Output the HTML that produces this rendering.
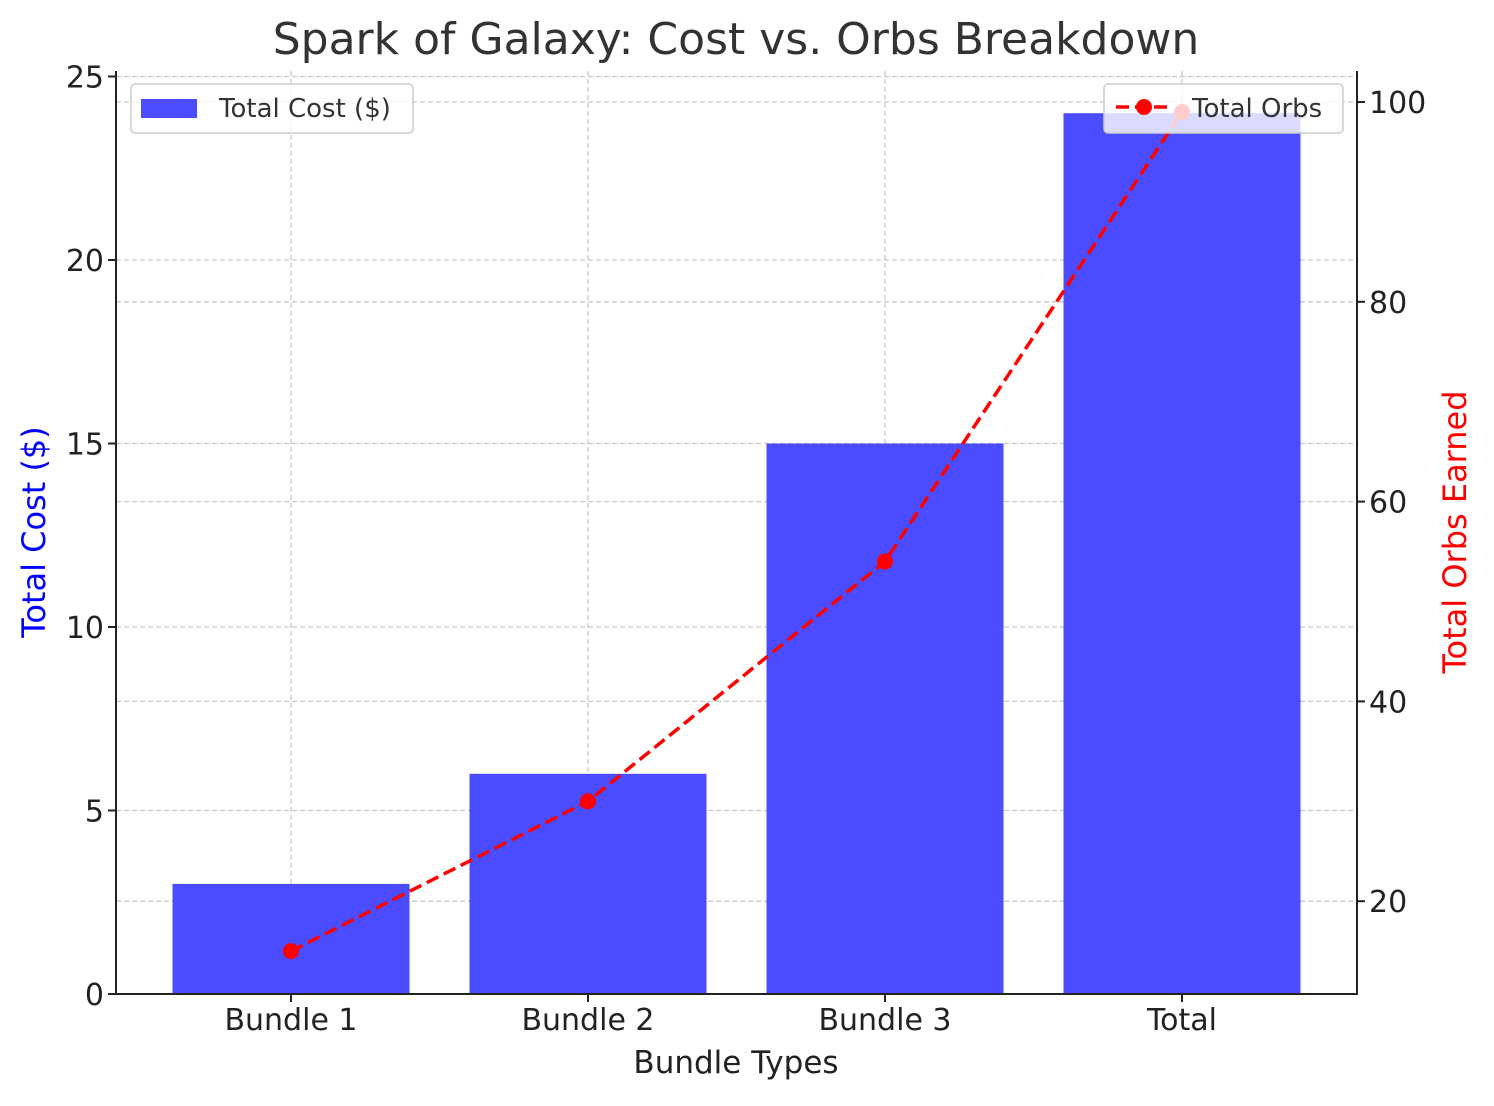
<!DOCTYPE html>
<html><head><meta charset="utf-8"><style>
body{margin:0;background:#fff}
svg text{font-family:"DejaVu Sans","Liberation Sans",sans-serif}
</style></head><body>
<svg id="c" width="1494" height="1101" xmlns="http://www.w3.org/2000/svg"></svg>
<script>
const categories=["Bundle 1","Bundle 2","Bundle 3","Total"];
const costValues=[3,6,15,24];
const orbValues=[15,30,54,99];
const leftTicks=[0,5,10,15,20,25];
const rightTicks=[20,40,60,80,100];
const L=116,R=1357,T=71,B=994;
const xs=i=>291+i*297;
const yL=v=>994-v*36.7;
const yR=v=>1101-v*9.99;
const svg=document.getElementById('c');
const NS='http://www.w3.org/2000/svg';
function mk(tag,at,txt){const e=document.createElementNS(NS,tag);for(const k in at)e.setAttribute(k,at[k]);if(txt!==undefined)e.textContent=txt;svg.appendChild(e);return e;}
leftTicks.forEach(t=>{const e=mk('line',{x1:L,x2:R,y1:yL(t),y2:yL(t),stroke:'#c8c8c8','stroke-width':1.3,'stroke-dasharray':'5,3'});

});
rightTicks.forEach(t=>{const e=mk('line',{x1:L,x2:R,y1:yR(t),y2:yR(t),stroke:'#c8c8c8','stroke-width':1.3,'stroke-dasharray':'5,3'});

});
categories.forEach((c,i)=>{const e=mk('line',{x1:xs(i),x2:xs(i),y1:T,y2:B,stroke:'#c8c8c8','stroke-width':1.3,'stroke-dasharray':'5,3'});

});
costValues.forEach((v,i)=>{const e=mk('rect',{x:xs(i)-118.5,y:yL(v),width:237,height:B-yL(v),fill:'#4b4bff'});

});
const pts=orbValues.map((v,i)=>xs(i)+','+yR(v)).join(' ');
const pl=mk('polyline',{points:pts,fill:'none',stroke:'#ff0000','stroke-width':3.5,'stroke-dasharray':'13,6'});


orbValues.forEach((v,i)=>{const e=mk('circle',{cx:xs(i),cy:yR(v),r:8,fill:'#ff0000'});

});
const ax=mk('path',{d:`M${L},${T} V${B} H${R} V${T}`,fill:'none',stroke:'#222','stroke-width':2});


leftTicks.forEach(t=>{mk('line',{x1:L-8,x2:L,y1:yL(t),y2:yL(t),stroke:'#222','stroke-width':2});
const e=mk('text',{x:L-12,y:yL(t)+11,'text-anchor':'end','font-size':30,fill:'#222'},t);

});
rightTicks.forEach(t=>{mk('line',{x1:R,x2:R+8,y1:yR(t),y2:yR(t),stroke:'#222','stroke-width':2});
const e=mk('text',{x:R+12,y:yR(t)+11,'font-size':30,fill:'#222'},t);

});
categories.forEach((c,i)=>{mk('line',{x1:xs(i),x2:xs(i),y1:B,y2:B+8,stroke:'#222','stroke-width':2});
const e=mk('text',{x:xs(i),y:1030,'text-anchor':'middle','font-size':30,fill:'#222'},c);

});
let e;
e=mk('text',{x:736,y:54,'text-anchor':'middle','font-size':44,fill:'#333'},'Spark of Galaxy: Cost vs. Orbs Breakdown');


e=mk('text',{x:736,y:1073,'text-anchor':'middle','font-size':31,fill:'#222'},'Bundle Types');


e=mk('text',{x:0,y:0,'text-anchor':'middle','font-size':32,fill:'#0000ff',transform:'translate(45,532) rotate(-90)'},'Total Cost ($)');


e=mk('text',{x:0,y:0,'text-anchor':'middle','font-size':32,fill:'#ff0000',transform:'translate(1466,532) rotate(-90)'},'Total Orbs Earned');


e=mk('rect',{x:131,y:84,width:282,height:49,rx:4,fill:'rgba(255,255,255,0.8)',stroke:'#ccc','stroke-width':1.5});


mk('rect',{x:141,y:99,width:56,height:19,fill:'#4b4bff'});
e=mk('text',{x:219,y:117,'font-size':26,fill:'#333'},'Total Cost ($)');


e=mk('rect',{x:1104,y:84,width:239,height:49,rx:4,fill:'rgba(255,255,255,0.8)',stroke:'#ccc','stroke-width':1.5});


mk('line',{x1:1116,x2:1172,y1:107,y2:107,stroke:'#ff0000','stroke-width':3.5,'stroke-dasharray':'13,6'});
mk('circle',{cx:1144,cy:107,r:8,fill:'#ff0000'});
e=mk('text',{x:1192,y:117,'font-size':26,fill:'#333'},'Total Orbs');


</script>
</body></html>
